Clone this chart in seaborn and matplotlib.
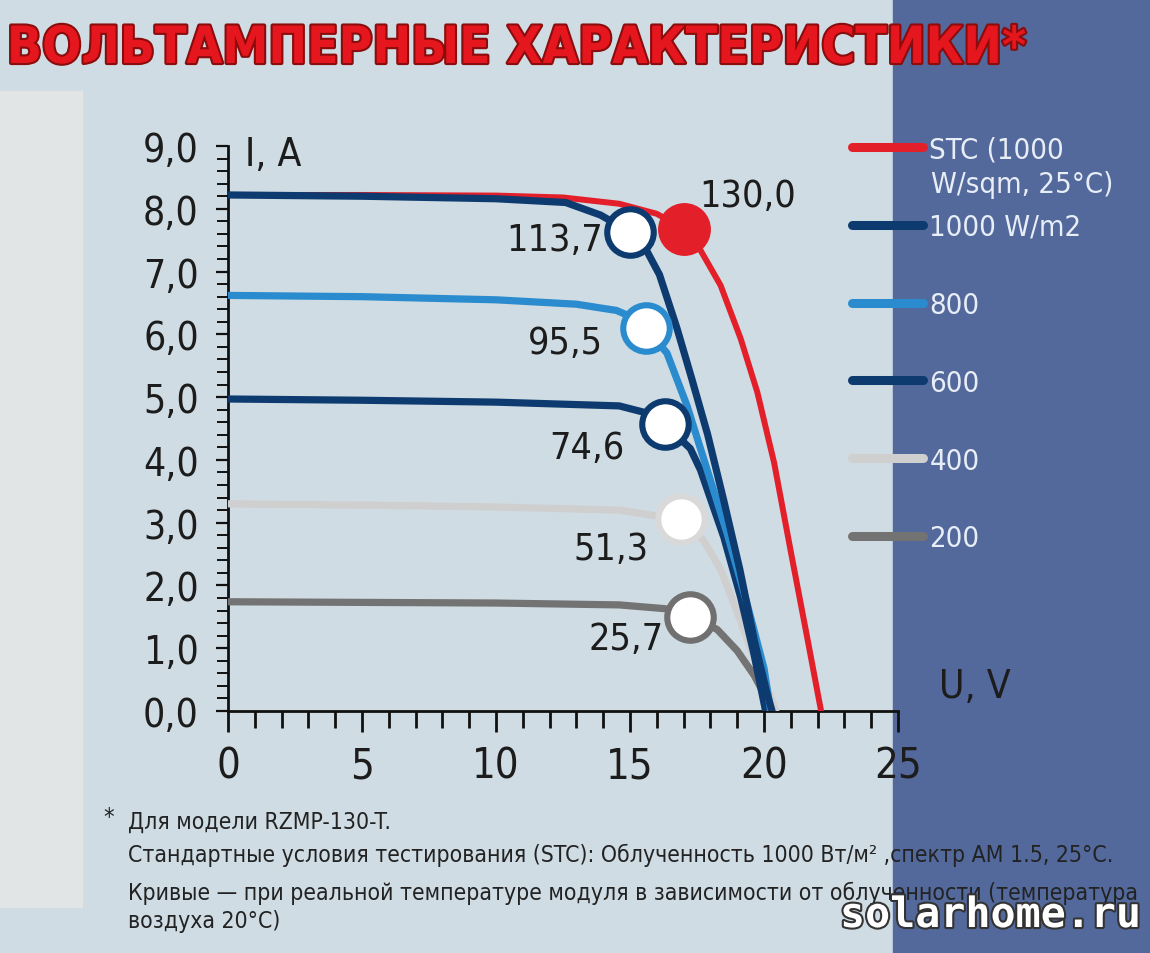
import matplotlib
matplotlib.use('Agg')
import matplotlib.pyplot as plt
import matplotlib.patheffects as pe
from matplotlib.lines import Line2D
from matplotlib.patches import Rectangle
from matplotlib.ticker import MultipleLocator, FixedLocator
import pandas as pd
import seaborn as sns

# Кривые ВАХ (U, В / I, А)
curve_names = ['STC', '1000', '800', '600', '400', '200']

u_stc = [0, 5, 10, 12.5, 14.6, 16.0, 17.0, 17.63, 18.38, 19.13, 19.75, 20.38, 21.0, 21.63, 22.13]
i_stc = [8.22, 8.22, 8.21, 8.18, 8.08, 7.92, 7.68, 7.34, 6.78, 5.93, 5.08, 3.95, 2.54, 1.13, 0]

u_1000 = [0, 5, 10, 12.6, 13.9, 15.0, 15.6, 16.1, 16.75, 17.3, 17.9, 18.5, 19.1, 19.65, 20.1, 20.3]
i_1000 = [8.22, 8.2, 8.16, 8.1, 7.9, 7.63, 7.35, 6.95, 6.1, 5.3, 4.4, 3.35, 2.25, 1.1, 0.3, 0]

u_800 = [0, 5, 10, 13.0, 14.5, 15.2, 15.6, 16.38, 17.13, 17.88, 18.63, 19.38, 20.0, 20.25]
i_800 = [6.62, 6.6, 6.55, 6.48, 6.38, 6.25, 6.1, 5.7, 4.86, 3.84, 2.82, 1.69, 0.68, 0]

u_600 = [0, 5, 10, 14.6, 15.6, 16.3, 17.25, 17.63, 18.5, 19.13, 19.63, 20.06]
i_600 = [4.97, 4.95, 4.92, 4.86, 4.75, 4.57, 4.18, 3.84, 2.77, 1.81, 0.9, 0]

u_400 = [0, 5, 10, 14.6, 15.8, 16.9, 17.75, 18.38, 19.0, 19.63, 20.25, 20.44]
i_400 = [3.3, 3.28, 3.25, 3.2, 3.12, 3.06, 2.71, 2.26, 1.58, 0.85, 0.23, 0]

u_200 = [0, 5, 10, 14.6, 16.3, 17.25, 18.25, 19.0, 19.63, 20.13, 20.31]
i_200 = [1.74, 1.73, 1.72, 1.69, 1.63, 1.5, 1.3, 0.96, 0.57, 0.17, 0]

# точки максимальной мощности
mpp_u = [17.0, 15.0, 15.6, 16.3, 16.9, 17.25]
mpp_i = [7.68, 7.63, 6.1, 4.57, 3.06, 1.5]
mpp_labels = ['130,0', '113,7', '95,5', '74,6', '51,3', '25,7']

legend_labels = ['STC (1000', '1000 W/m2', '800', '600', '400', '200']

x_ticks = [0, 5, 10, 15, 20, 25]
x_ticklabels = ['0', '5', '10', '15', '20', '25']
y_ticks = [0, 1, 2, 3, 4, 5, 6, 7, 8, 9]
y_ticklabels = ['0,0', '1,0', '2,0', '3,0', '4,0', '5,0', '6,0', '7,0', '8,0', '9,0']

# стиль
colors = {'STC': '#e3202a', '1000': '#0e3b6f', '800': '#2a8ccf',
          '600': '#0e3b6f', '400': '#cfcfcf', '200': '#737373'}
ring = {'STC': '#e3202a', '1000': '#0e3b6f', '800': '#2a8ccf',
        '600': '#0e3b6f', '400': '#d9d9d9', '200': '#707070'}
widths = {'STC': 4.3, '1000': 5.2, '800': 5.2, '600': 5.2, '400': 5.2, '200': 5.2}
order = ['STC', '200', '400', '600', '800', '1000']

sns.set_style('ticks')
plt.rcParams['font.family'] = ['DejaVu Sans']
plt.rcParams['font.stretch'] = 'condensed'

df = pd.concat([
    pd.DataFrame({'U': u, 'I': i, 'curve': c})
    for c, u, i in zip(curve_names,
                       [u_stc, u_1000, u_800, u_600, u_400, u_200],
                       [i_stc, i_1000, i_800, i_600, i_400, i_200])
])
mpp = pd.DataFrame({'curve': curve_names, 'U': mpp_u, 'I': mpp_i, 'P': mpp_labels})

fig = plt.figure(figsize=(11.5, 9.54), dpi=100)
fig.patch.set_facecolor('#cfdce3')
fig.add_artist(Rectangle((0, 1 - 908 / 954), 82 / 1150, 816 / 954,
                         transform=fig.transFigure, color='#e1e5e6', zorder=0))
fig.add_artist(Rectangle((893 / 1150, 0), 257 / 1150, 1,
                         transform=fig.transFigure, color='#53699b', zorder=0))

ax = fig.add_axes([228 / 1150, 1 - 712 / 954, 670 / 1150, 565 / 954])
ax.patch.set_alpha(0)

for k, c in enumerate(order):
    sns.lineplot(data=df[df['curve'] == c], x='U', y='I', sort=False, estimator=None,
                 color=colors[c], linewidth=widths[c], ax=ax, legend=False,
                 solid_capstyle='round', solid_joinstyle='round', zorder=3 + k * 0.1)

for k, c in enumerate(order):
    row = mpp[mpp['curve'] == c]
    if c == 'STC':
        sns.scatterplot(data=row, x='U', y='I', s=1450, color=colors[c],
                        edgecolor=colors[c], linewidth=0, ax=ax, zorder=5, legend=False)
    else:
        sns.scatterplot(data=row, x='U', y='I', s=1120, color='white',
                        edgecolor=ring[c], linewidth=4.4, ax=ax, zorder=6 + k * 0.1, legend=False)

offsets = {'STC': (46, 24), '1000': (-54, -6), '800': (-58, -11),
           '600': (-56, -17), '400': (-50, -22), '200': (-46, -16)}
for _, r in mpp.iterrows():
    ax.annotate(r['P'], (r['U'], r['I']), xytext=offsets[r['curve']],
                textcoords='offset points', ha='center', va='center',
                fontsize=27, color='#1c1c1c', zorder=8)

ax.set_xlim(0, 25)
ax.set_ylim(0, 9)
ax.set_xlabel('')
ax.set_ylabel('')
for s in ['top', 'right']:
    ax.spines[s].set_visible(False)
for s in ['left', 'bottom']:
    ax.spines[s].set_linewidth(2)
    ax.spines[s].set_color('#111111')
    ax.spines[s].set_zorder(2)

ax.xaxis.set_major_locator(FixedLocator(x_ticks))
ax.set_xticklabels(x_ticklabels)
ax.xaxis.set_minor_locator(MultipleLocator(1))
ax.yaxis.set_major_locator(FixedLocator(y_ticks))
ax.set_yticklabels(y_ticklabels)
ax.yaxis.set_minor_locator(MultipleLocator(0.2))
ax.tick_params(axis='x', which='major', length=15, width=2, color='#111111',
               pad=9, labelsize=30, labelcolor='#1c1c1c')
ax.tick_params(axis='x', which='minor', length=12, width=2, color='#111111')
ax.tick_params(axis='y', which='major', length=9, width=1.6, color='#111111',
               pad=12, labelsize=28, labelcolor='#1c1c1c')
ax.tick_params(axis='y', which='minor', length=8, width=1.4, color='#111111')

ax.text(0.025, 0.985, 'I, A', transform=ax.transAxes, fontsize=28,
        color='#1c1c1c', ha='left', va='center')
ax.text(1.115, 0.045, 'U, V', transform=ax.transAxes, fontsize=28,
        color='#1c1c1c', ha='center', va='center', clip_on=False)

# легенда
handles = [Line2D([], [], color=colors[c], lw=6.5, solid_capstyle='round') for c in curve_names]
leg = fig.legend(handles, legend_labels, loc='upper left',
                 bbox_to_anchor=(852 / 1150, 1 - 136 / 954), frameon=False,
                 fontsize=21, labelcolor='#e8eef7', handlelength=2.45,
                 handletextpad=0.2, labelspacing=1.71, borderpad=0, borderaxespad=0)
fig.text(931 / 1150, 1 - 185 / 954, 'W/sqm, 25°C)', fontsize=21, color='#e8eef7',
         ha='left', va='center')

# заголовок
fig.text(0.006, 1 - 50 / 954, 'ВОЛЬТАМПЕРНЫЕ ХАРАКТЕРИСТИКИ*', fontsize=37,
         fontweight='bold', color='#e5161d', ha='left', va='center',
         path_effects=[pe.withStroke(linewidth=3, foreground='#8a0c0c')])

# сноска
note = '#222222'
fig.text(103 / 1150, 1 - 818 / 954, '*', fontsize=17, color=note, ha='left', va='center')
fig.text(128 / 1150, 1 - 822 / 954, 'Для модели RZMP-130-T.', fontsize=16.5, color=note,
         ha='left', va='center')
fig.text(128 / 1150, 1 - 855 / 954,
         'Стандартные условия тестирования (STC): Облученность 1000 Вт/м² ,спектр АМ 1.5, 25°C.',
         fontsize=16.5, color=note, ha='left', va='center')
fig.text(128 / 1150, 1 - 893 / 954,
         'Кривые — при реальной температуре модуля в зависимости от облученности (температура',
         fontsize=16.5, color=note, ha='left', va='center')
fig.text(128 / 1150, 1 - 922 / 954, 'воздуха 20°C)', fontsize=16.5, color=note,
         ha='left', va='center')

fig.text(1140 / 1150, 1 - 916 / 954, 'solarhome.ru', fontsize=30, fontweight='bold',
         family='DejaVu Sans Mono', color='white', ha='right', va='center',
         path_effects=[pe.withStroke(linewidth=3, foreground='#333333')])

fig.savefig('out.png', dpi=100, facecolor=fig.get_facecolor())
